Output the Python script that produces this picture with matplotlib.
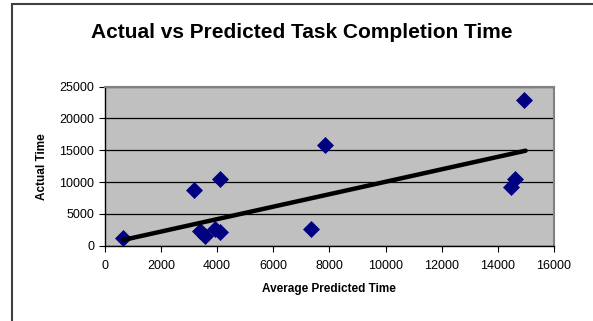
import numpy as np
import matplotlib.pyplot as plt
from matplotlib.patches import Rectangle

# values
predicted = [660, 3180, 4120, 3390, 3560, 3920, 4120, 7860, 7360, 14940, 14610, 14470]
actual = [1260, 8760, 10440, 2310, 1570, 2630, 2110, 15880, 2670, 22910, 10440, 9280]
# linear trendline as drawn in the chart (end points)
trend_x = [660, 14990]
trend_y = [900, 14940]
x_ticks = [0, 2000, 4000, 6000, 8000, 10000, 12000, 14000, 16000]
y_ticks = [0, 5000, 10000, 15000, 20000, 25000]

title = "Actual vs Predicted Task Completion Time"

plt.rcParams['font.family'] = ['Liberation Sans', 'DejaVu Sans']

fig = plt.figure(figsize=(5.93, 3.21), dpi=100)
ax = fig.add_axes([104.7 / 593, 1 - 245.7 / 321, (554 - 104.7) / 593, (245.7 - 86.7) / 321])

# outer chart border (only top and left visible in the crop)
fig.patches.append(Rectangle((12 / 593, -0.1), 1.2, 1 - 4 / 321 + 0.1,
                             transform=fig.transFigure, fill=False,
                             edgecolor="#404040", linewidth=1.5))

ax.set_facecolor("#C0C0C0")
ax.set_axisbelow(True)
ax.grid(axis="y", color="black", linewidth=0.9)

ax.scatter(predicted, actual, marker="D", s=75, color="#000080", zorder=3, linewidths=0)
ax.plot(trend_x, trend_y, color="black", linewidth=3.2, zorder=4,
        solid_capstyle="round")

ax.set_xlim(0, 16000)
ax.set_ylim(0, 25000)
ax.set_xticks(x_ticks)
ax.set_yticks(y_ticks)
ax.tick_params(labelsize=9, length=4, direction="out", color="black")
ax.tick_params(axis="x", pad=6)

for side in ["top", "right"]:
    ax.spines[side].set_color("#808080")
    ax.spines[side].set_linewidth(1.5)
for side in ["left", "bottom"]:
    ax.spines[side].set_color("black")
    ax.spines[side].set_linewidth(1.0)

ax.set_xlabel("Average Predicted Time", fontsize=8.5, fontweight="bold", labelpad=8)
ax.set_ylabel("Actual Time", fontsize=8.5, fontweight="bold", labelpad=8)
fig.text(302 / 593, 1 - 32 / 321, title, ha="center", va="center",
         fontsize=15, fontweight="bold")

fig.savefig("out.png", dpi=100)
